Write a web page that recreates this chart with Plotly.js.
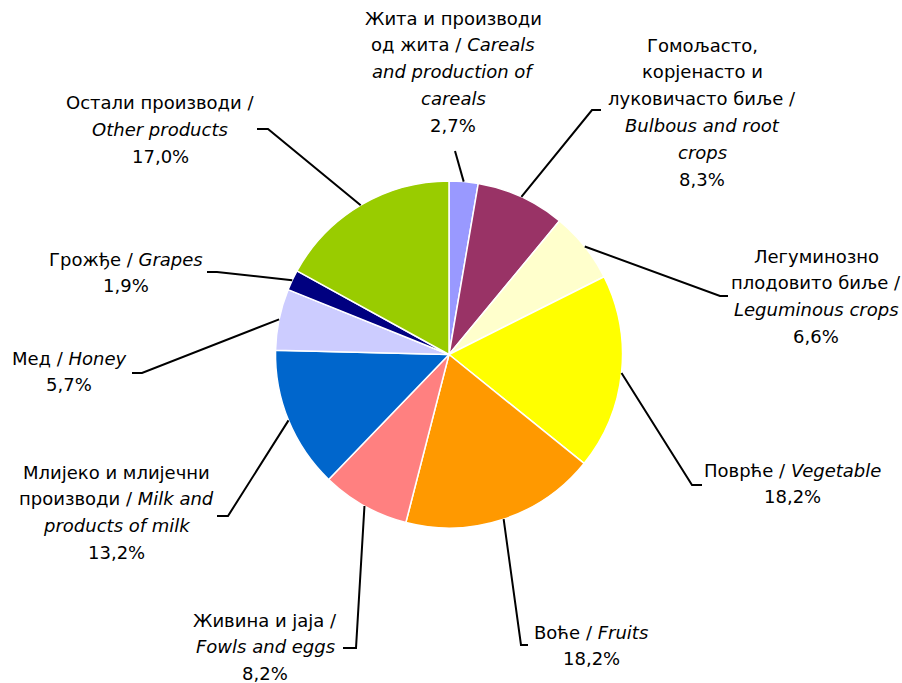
<!DOCTYPE html>
<html>
<head>
<meta charset="utf-8">
<script src="https://cdn.plot.ly/plotly-3.0.1.min.js"></script>
<style>html,body{margin:0;padding:0;background:#fff;}#chart{width:902px;height:683px;}</style>
</head>
<body>
<div id="chart"></div>
<script>
// ---- data ----
const categories = [
  "Жита и производи од жита / Careals and production of careals",
  "Гомољасто, корјенасто и луковичасто биље / Bulbous and root crops",
  "Легуминозно плодовито биље / Leguminous crops",
  "Поврће / Vegetable",
  "Воће / Fruits",
  "Живина и јаја / Fowls and eggs",
  "Млијеко и млијечни производи / Milk and products of milk",
  "Мед / Honey",
  "Грожђе / Grapes",
  "Остали производи / Other products"
];
const shares = [2.7, 8.3, 6.6, 18.2, 18.2, 8.2, 13.2, 5.7, 1.9, 17.0];
const labelLines = [
  ["Жита и производи", "од жита / <i>Careals</i>", "<i>and production of</i>", "<i>careals</i>"],
  ["Гомољасто,", "корјенасто и", "луковичасто биље /", "<i>Bulbous and root</i>", "<i>crops</i>"],
  ["Легуминозно", "плодовито биље /", "<i>Leguminous crops</i>"],
  ["Поврће / <i>Vegetable</i>"],
  ["Воће / <i>Fruits</i>"],
  ["Живина и јаја /", "<i>Fowls and eggs</i>"],
  ["Млијеко и млијечни", "производи / <i>Milk and</i>", "<i>products of milk</i>"],
  ["Мед / <i>Honey</i>"],
  ["Грожђе / <i>Grapes</i>"],
  ["Остали производи /", "<i>Other products</i>"]
];

// ---- styles / layout positions (pixels) ----
const colors = ["#9999FF","#993366","#FFFFCC","#FFFF00","#FF9900","#FF8080","#0066CC","#CCCCFF","#000080","#99CC00"];
const W = 902, H = 683;
const cx = 449, cy = 354.5, R = 173.5;
const labelX = [453, 702, 816, 792, 591, 265, 117, 69, 126, 160];
const labelTopY = [18, 45, 256, 470, 632, 620, 472, 358, 259, 103];
const linePitch = 26.8;
const elbows = [[455,151],[592,110],[720,296],[692,485],[521,645],[356,648],[228,516],[142,373],[217,272],[268,129]];
const lineEnds = [[455,151],[601,110],[728,296],[702,485],[528,645],[343,648],[217,516],[132,373],[207,272],[257,129]];

const px = x => x / W;
const py = y => 1 - y / H;
const fmt = v => v.toFixed(1).replace(".", ",") + "%";

const total = shares.reduce((a,b)=>a+b,0);
const annotations = [];
const shapes = [];
let cum = 0;
shares.forEach((v, i) => {
  const mid = (cum + v/2) / total * 2 * Math.PI;
  cum += v;
  const sx = cx + R * Math.sin(mid), sy = cy - R * Math.cos(mid);
  const [ex, ey] = elbows[i];
  const [tx, ty] = lineEnds[i];
  shapes.push({
    type: "path", xref: "paper", yref: "paper",
    path: `M ${px(sx)} ${py(sy)} L ${px(ex)} ${py(ey)} L ${px(tx)} ${py(ty)}`,
    line: {color: "#000", width: 2}
  });
  const lines = labelLines[i].concat([fmt(v)]);
  lines.forEach((t, k) => {
    annotations.push({
      xref: "paper", yref: "paper",
      x: px(labelX[i]), y: py(labelTopY[i] + k * linePitch),
      xanchor: "center", yanchor: "middle",
      text: t, showarrow: false,
      font: {family: "DejaVu Sans", size: 18, color: "#000"}
    });
  });
});

const trace = {
  type: "pie",
  labels: categories,
  values: shares,
  sort: false,
  direction: "clockwise",
  rotation: 0,
  textinfo: "none",
  hoverinfo: "none",
  marker: {colors: colors, line: {color: "#fff", width: 1.5}},
  domain: {x: [px(cx - R), px(cx + R)], y: [py(cy + R), py(cy - R)]},
  showlegend: false
};

Plotly.newPlot("chart", [trace], {
  width: W, height: H,
  margin: {l: 0, r: 0, t: 0, b: 0},
  paper_bgcolor: "#fff",
  showlegend: false,
  annotations: annotations,
  shapes: shapes
}, {displayModeBar: false, staticPlot: true});
</script>
</body>
</html>
